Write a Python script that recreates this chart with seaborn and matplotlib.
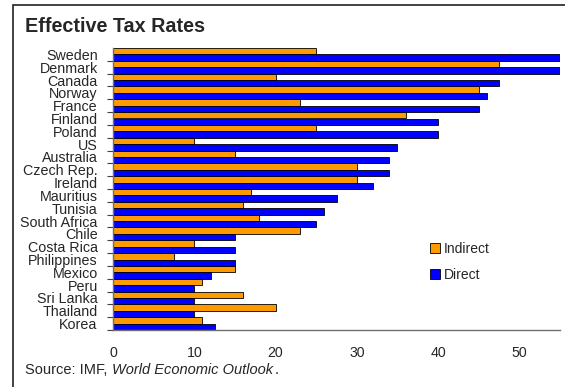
import numpy as np
import pandas as pd
import matplotlib
matplotlib.use("Agg")
import matplotlib.pyplot as plt
from matplotlib.patches import Rectangle, Patch
from matplotlib.ticker import FixedLocator
import seaborn as sns

# Daten
countries = ["Sweden", "Denmark", "Canada", "Norway", "France", "Finland", "Poland",
             "US", "Australia", "Czech Rep.", "Ireland", "Mauritius", "Tunisia",
             "South Africa", "Chile", "Costa Rica", "Philippines", "Mexico", "Peru",
             "Sri Lanka", "Thailand", "Korea"]
indirect = [25, 47.5, 20, 45, 23, 36, 25, 10, 15, 30, 30, 17, 16, 18, 23, 10, 7.5,
            15, 11, 16, 20, 11]
direct = [56, 55, 47.5, 46, 45, 40, 40, 35, 34, 34, 32, 27.5, 26, 25, 15, 15, 15,
          12, 10, 10, 10, 12.5]
series = ["Indirect", "Direct"]
colors = ["#FF9900", "#0000FF"]
x_ticks = [0, 10, 20, 30, 40, 50]

df = pd.DataFrame({
    "country": countries * 2,
    "rate": indirect + direct,
    "type": ["Indirect"] * len(countries) + ["Direct"] * len(countries),
})

sns.set_style("white")
plt.rcParams["font.family"] = ["Liberation Sans", "DejaVu Sans"]

fig = plt.figure(figsize=(5.65, 3.87), dpi=100)
ax = fig.add_axes([113 / 565, 1 - 330 / 387, (560 - 113) / 565, (330 - 48) / 387])

sns.barplot(data=df, x="rate", y="country", hue="type", order=countries,
            hue_order=series, palette=colors, orient="h", width=1.0,
            edgecolor="black", linewidth=0.6, saturation=1, ax=ax, legend=False)

ax.set_xlim(0, 55)
ax.set_ylim(len(countries) - 0.5, -0.5)
ax.set_xlabel("")
ax.set_ylabel("")

# Achsen
for side in ["top", "right"]:
    ax.spines[side].set_visible(False)
for side in ["left", "bottom"]:
    ax.spines[side].set_color("#707070")
    ax.spines[side].set_linewidth(1.0)

ax.set_xticks(x_ticks)
ax.set_xticklabels([str(t) for t in x_ticks], fontsize=10.2)
ax.tick_params(axis="x", direction="out", length=4, width=0.8, color="#404040", pad=7.5)

ax.set_yticks(range(len(countries)))
ax.set_yticklabels(countries, fontsize=10.3)
ax.tick_params(axis="y", which="major", length=0, pad=11)
ax.yaxis.set_minor_locator(FixedLocator(np.arange(len(countries)) + 0.5))
ax.tick_params(axis="y", which="minor", direction="out", length=4, width=0.8,
               color="#404040", left=True)

# Legende
handles = [Patch(facecolor=c, edgecolor="black", linewidth=0.6, label=s)
           for s, c in zip(series, colors)]
fig.legend(handles=handles, loc="upper left", bbox_to_anchor=(424 / 565, 1 - 236 / 387),
           frameon=False, fontsize=10, handlelength=0.75, handleheight=0.75,
           handletextpad=0.3, labelspacing=0.9, borderaxespad=0)

# Titel und Quelle
fig.text(25 / 565, 1 - 32 / 387, "Effective Tax Rates", fontsize=14.2,
         fontweight="bold", va="baseline", ha="left")
src_y = 1 - 374 / 387
t1 = fig.text(25 / 565, src_y, "Source: IMF, ", fontsize=10.5,
              va="baseline", ha="left")
renderer = fig.canvas.get_renderer()
bb = t1.get_window_extent(renderer)
t2 = fig.text(bb.x1 / 565, src_y, "World Economic Outlook", fontsize=10.5,
              style="italic", va="baseline", ha="left")
bb2 = t2.get_window_extent(renderer)
fig.text(bb2.x1 / 565 + 2 / 565, src_y, ".", fontsize=10.5,
         va="baseline", ha="left")

# Rahmen
fig.patches.append(Rectangle((13 / 565, -0.05), 1.1, 1 - 5 / 387 + 0.05,
                             transform=fig.transFigure, fill=False,
                             edgecolor="#222222", linewidth=1.2))

fig.savefig("out.png", dpi=100)
